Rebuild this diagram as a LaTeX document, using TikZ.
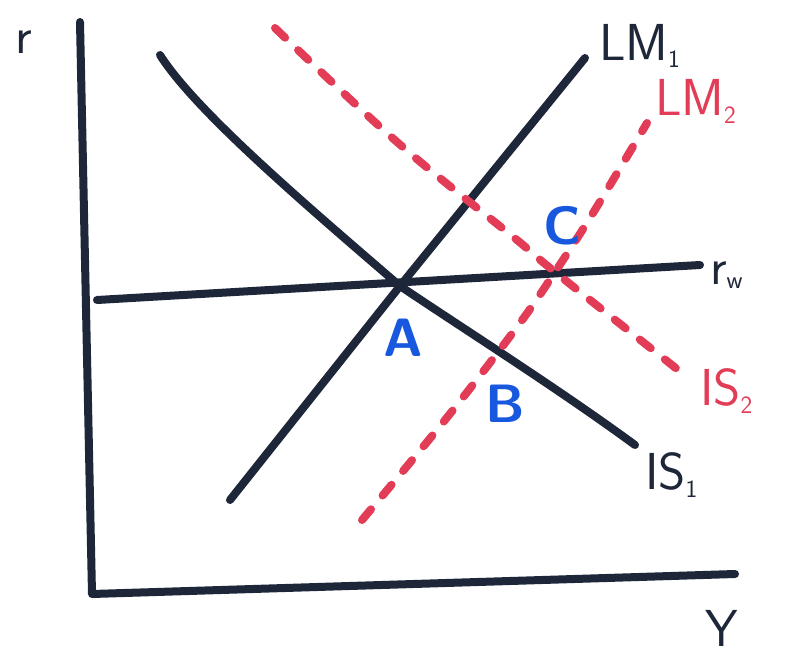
\documentclass[tikz,border=0pt]{standalone}
\usetikzlibrary{arrows.meta,positioning}
\definecolor{inkblack}{RGB}{30,38,58}
\definecolor{inkred}{RGB}{226,60,86}
\definecolor{inkblue}{RGB}{24,88,222}
\tikzset{
  curve/.style={inkblack,line width=8pt,line cap=round,line join=round},
  shifted/.style={inkred,line width=8pt,line cap=round,dash pattern=on 14pt off 18pt},
  lbl/.style={font=\sffamily\fontsize{52}{52}\selectfont,inner sep=2pt},
  pt/.style={inkblue,font=\sffamily\bfseries\fontsize{54}{54}\selectfont,inner sep=0pt}
}
\begin{document}
\begin{tikzpicture}[x=1pt,y=-1pt]
  \useasboundingbox (0,0) rectangle (787,667);
  \fill[white] (0,0) rectangle (787,667);
  \coordinate (T) at (80,22);
  \coordinate (O) at (92,594);
  \coordinate (E) at (735,574);
  \coordinate (W0) at (97,300);
  \coordinate (W1) at (700,265);
  \coordinate (A0) at (400,286);
  \coordinate (C0) at (555,272);
  \coordinate (IA) at (160,55);
  \coordinate (IB) at (635,445);
  \coordinate (LA) at (230,500);
  \coordinate (LB) at (585,58);
  % axes
  \draw[curve] (T) -- (O) -- (E);
  \node[lbl,inkblack] (r) at (24,42) {r};
  \node[lbl,inkblack] (Y) at (722,628) {Y};
  % world rate
  \draw[curve] (W0) -- (W1) node[lbl,right=4pt,yshift=-10pt] (rw) {r$_{\mathsf w}$};
  % first curves
  \draw[curve] (IA) .. controls (195,110) and (300,200) .. (A0)
    .. controls (470,333) and (560,390) .. (IB)
    node[lbl,anchor=north west,xshift=4pt,yshift=-2pt] (is1) {IS$_{\mathsf 1}$};
  \draw[curve] (LA) -- (A0) -- (LB) node[lbl,anchor=west,xshift=8pt,yshift=12pt] (lm1) {LM$_{\mathsf 1}$};
  % shifted curves
  \draw[shifted] plot[smooth,tension=0.6] coordinates {(275,28) (397,142) (517,240) (C0) (682,373)}
    node[lbl,anchor=west,xshift=12pt,yshift=-18pt] (is2) {IS$_{\mathsf 2}$};
  \draw[shifted] plot[smooth,tension=0.6] coordinates {(362,520) (445,420) (517,327) (C0) (593,213) (647,123)}
    node[lbl,anchor=south west,xshift=2pt,yshift=-6pt] (lm2) {LM$_{\mathsf 2}$};
  % points
  \node[pt] (A) at (403,338) {A};
  \node[pt] (B) at (505,404) {B};
  \node[pt] (C) at (562,226) {C};
\end{tikzpicture}
\end{document}
